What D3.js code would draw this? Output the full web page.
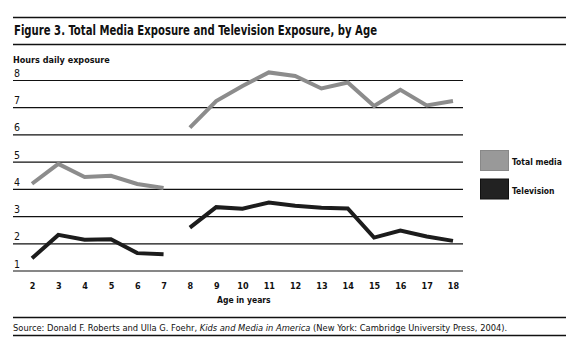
<!DOCTYPE html>
<html><head><meta charset="utf-8">
<script src="https://cdn.jsdelivr.net/npm/d3@7"></script>
<style>
body{margin:0;background:#fff;}
text{font-family:"Liberation Sans Narrow","DejaVu Sans Condensed","Liberation Sans",sans-serif;}
</style></head>
<body><svg id="c" width="578" height="355"></svg>
<script>
const ages = [2,3,4,5,6,7,8,9,10,11,12,13,14,15,16,17,18];
const totalMedia = [4.17,4.9,4.42,4.46,4.16,4.01,6.23,7.21,7.76,8.26,8.13,7.67,7.89,7.03,7.62,7.05,7.21];
const television = [1.43,2.29,2.11,2.13,1.62,1.58,2.56,3.31,3.25,3.48,3.36,3.29,3.26,2.19,2.45,2.23,2.07];
const yTicks = [1,2,3,4,5,6,7,8];
const seriesNames = ["Total media","Television"];
const seriesColors = ["#8c8c8c","#1c1c1c"];
const legendFill = ["#999999","#222222"];
const titleText = "Figure 3. Total Media Exposure and Television Exposure, by Age";
const yLabel = "Hours daily exposure";
const xLabel = "Age in years";

const svg = d3.select("#c");
const x = d3.scaleLinear().domain([2,18]).range([32,453]);
const y = d3.scaleLinear().domain([1,8]).range([270,79.5]);

// frame lines
[17.5,44.5,317.5,335.5].forEach(yy=>svg.append("line").attr("x1",13).attr("x2",566).attr("y1",yy).attr("y2",yy).attr("stroke","#111").attr("stroke-width",1.3));

svg.append("text").attr("x",14).attr("y",35).attr("font-size",13.5).attr("font-weight","bold").attr("fill","#111")
  .attr("textLength",363).attr("lengthAdjust","spacingAndGlyphs").text(titleText);
svg.append("text").attr("x",13).attr("y",62.5).attr("font-size",9).attr("font-weight","bold").attr("fill","#111").text(yLabel);

// y grid + labels
const yAxis = d3.axisLeft(y).tickValues(yTicks).tickSize(-450).tickFormat(d3.format("d"));
const gy = svg.append("g").attr("transform","translate(13,0)").call(yAxis);
gy.select(".domain").remove();
gy.selectAll(".tick line").attr("stroke","#111").attr("stroke-width",1.2).attr("transform","translate(0,0.5)");
gy.selectAll(".tick text").attr("x",1).attr("dy",-3).attr("text-anchor","start").attr("font-size",10.5)
  .attr("fill","#111").attr("font-family","'Liberation Sans Narrow','DejaVu Sans Condensed',sans-serif");

// x labels
const xAxis = d3.axisBottom(x).tickValues(ages).tickSize(0).tickFormat(d3.format("d"));
const gx = svg.append("g").attr("transform","translate(0,280)").call(xAxis);
gx.select(".domain").remove();
gx.selectAll(".tick text").attr("font-size",9).attr("font-weight","bold").attr("fill","#111")
  .attr("font-family","'Liberation Sans Narrow','DejaVu Sans Condensed',sans-serif");
svg.append("text").attr("x",217).attr("y",303).attr("font-size",8.5).attr("font-weight","bold").attr("fill","#111").text(xLabel);

// lines (gap between 7 and 8)
const line = d3.line().x(d=>x(d[0])).y(d=>y(d[1])).defined(d=>d[1]!=null);
function withGap(vals){
  const pts=[];
  ages.forEach((a,i)=>{ pts.push([a,vals[i]]); if(a===7) pts.push([7.5,null]); });
  return pts;
}
[totalMedia,television].forEach((vals,k)=>{
  svg.append("path").datum(withGap(vals)).attr("d",line).attr("fill","none")
    .attr("stroke",seriesColors[k]).attr("stroke-width",4).attr("stroke-linejoin","miter").attr("stroke-linecap","butt");
});

// legend
seriesNames.forEach((n,i)=>{
  const yy = 150 + i*28.5;
  svg.append("rect").attr("x",480.5).attr("y",yy+0.5).attr("width",28).attr("height",20)
    .attr("fill",legendFill[i]).attr("stroke",i===0?"#888":"#111").attr("stroke-width",1);
  svg.append("text").attr("x",512).attr("y",yy+15).attr("font-size",8.5).attr("font-weight","bold").attr("fill","#111").text(n);
});

// source
const src = svg.append("text").attr("x",13).attr("y",331).attr("font-size",10).attr("fill","#111");
src.append("tspan").text("Source: Donald F. Roberts and Ulla G. Foehr, ");
src.append("tspan").attr("font-style","italic").text("Kids and Media in America");
src.append("tspan").text(" (New York: Cambridge University Press, 2004).");
const w = src.node().getComputedTextLength();
if (w > 0) src.attr("font-size", Math.min(11, 10 * 495 / w));
</script></body></html>
